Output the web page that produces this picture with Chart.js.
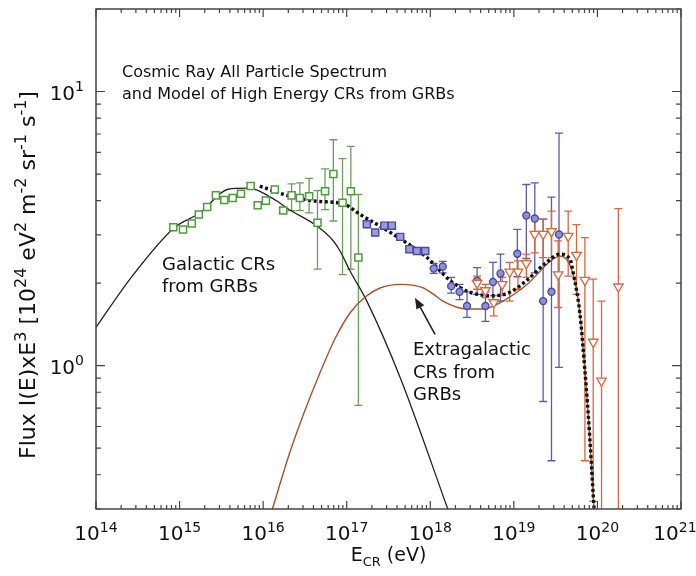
<!DOCTYPE html>
<html>
<head>
<meta charset="utf-8">
<script src="https://cdn.jsdelivr.net/npm/chart.js@4.4.0/dist/chart.umd.min.js"></script>
<style>
  body { margin: 0; background: #fff; }
</style>
</head>
<body>
<canvas id="myChart" width="696" height="576"></canvas>
<script>
// energy in eV, flux in 10^24 eV^2 m^-2 sr^-1 s^-1

// model curves
const galE = [1e14, 2.55e14, 8.58e14, 1.76e15, 3.80e15, 6.46e15, 1.48e16, 1.91e16, 4.42e16, 6.92e16, 8.32e16, 1.10e17, 1.74e17, 4.37e17, 1.62e18];
const galF = [1.38, 2.07, 3.18, 3.61, 4.40, 4.44, 3.98, 3.76, 3.23, 2.85, 2.62, 2.21, 1.72, 0.904, 0.30];

const extraE = [1.29e16, 2.09e16, 3.16e16, 4.79e16, 7.24e16, 1.10e17, 1.66e17, 2.51e17, 4.37e17, 7.94e17, 1.10e18, 1.41e18, 2.75e18, 4.27e18, 7.41e18, 1.45e19, 2.51e19, 3.55e19, 5.13e19, 6.17e19, 7.08e19, 7.76e19, 9.12e19];
const extraF = [0.30, 0.483, 0.686, 0.943, 1.254, 1.56, 1.78, 1.92, 1.98, 1.93, 1.82, 1.72, 1.61, 1.61, 1.72, 1.98, 2.35, 2.51, 2.15, 1.55, 0.96, 0.667, 0.30];

const totalE = [9.12e15, 2.09e16, 4.37e16, 9.12e16, 1.45e17, 3.63e17, 9.12e17, 1.74e18, 3.02e18, 5.62e18, 8.91e18, 1.41e19, 2.45e19, 3.55e19, 4.68e19, 5.13e19, 6.17e19, 7.08e19, 7.76e19, 9.12e19];
const totalF = [4.52, 4.15, 3.98, 3.89, 3.56, 3.01, 2.48, 2.04, 1.85, 1.80, 1.85, 2.04, 2.38, 2.55, 2.45, 2.18, 1.55, 0.96, 0.667, 0.30];

// green data (low energy)
const greenE = [8.41e14, 1.10e15, 1.40e15, 1.70e15, 2.14e15, 2.72e15, 3.43e15, 4.32e15, 5.43e15, 7.08e15, 8.61e15, 1.08e16, 1.38e16, 1.74e16, 2.19e16, 2.75e16, 3.55e16, 4.47e16, 5.50e16, 6.92e16, 8.91e16, 1.12e17, 1.38e17];
const greenF = [3.20, 3.14, 3.30, 3.56, 3.79, 4.18, 4.02, 4.09, 4.24, 4.52, 3.85, 4.00, 4.39, 3.68, 4.18, 4.09, 4.15, 3.32, 4.33, 5.00, 3.93, 4.33, 2.48];
const greenHi = [null, null, null, null, null, null, null, null, null, null, null, null, null, null, 4.60, 4.64, 4.82, 4.35, 5.22, 6.67, 5.69, 6.31, 4.21];
const greenLo = [null, null, null, null, null, null, null, null, null, null, null, null, null, null, 3.68, 3.68, 3.61, 2.25, 3.71, 3.37, 2.15, 2.25, 0.716];

// blue squares
const bsqE = [1.74e17, 2.19e17, 2.82e17, 3.47e17, 4.37e17, 5.62e17, 6.92e17, 8.71e17];
const bsqF = [3.28, 3.06, 3.24, 3.24, 2.95, 2.66, 2.62, 2.62];

// blue circles
const bciE = [1.10e18, 1.41e18, 1.78e18, 2.24e18, 2.75e18, 3.63e18, 4.57e18, 5.62e18, 6.92e18, 1.10e19, 1.41e19, 1.78e19, 2.24e19, 2.82e19, 3.47e19];
const bciF = [2.26, 2.30, 1.95, 1.86, 1.65, 2.04, 1.65, 2.02, 2.17, 2.56, 3.53, 3.44, 1.72, 1.86, 3.01];
const bciHi = [2.36, 2.40, 2.10, 1.98, 1.86, 2.28, 1.86, 2.38, 2.55, 3.14, 4.58, 4.64, 3.42, 4.12, 7.05];
const bciLo = [2.17, 2.18, 1.84, 1.74, 1.50, 1.82, 1.45, 1.72, 1.72, 2.11, 2.46, 2.18, 0.74, 0.45, 0.985];

// orange triangles
const triE = [3.63e18, 4.57e18, 5.75e18, 7.24e18, 8.91e18, 1.12e19, 1.41e19, 1.78e19, 2.24e19, 2.82e19, 3.39e19, 4.47e19, 5.62e19, 7.08e19, 8.91e19, 1.12e20, 1.78e20];
const triF = [2.00, 1.88, 1.70, 1.98, 2.20, 2.20, 2.36, 3.02, 3.02, 3.09, 2.15, 2.97, 2.53, 2.05, 1.22, 0.88, 1.94];
const triHi = [2.12, 1.98, 1.80, 2.10, 2.38, 2.41, 2.55, 3.46, 3.42, 3.66, 2.85, 3.66, 3.27, 2.93, 2.07, 1.72, 3.74];
const triLo = [1.90, 1.77, 1.52, 1.80, 1.72, 1.90, 2.10, 2.58, 2.48, 2.48, 1.63, 2.12, 1.82, 0.45, 0.32, 0.2, 0.2];

// axis ticks
const xDecades = [14, 15, 16, 17, 18, 19, 20, 21];
const yTicks = [0.3, 0.4, 0.5, 0.6, 0.7, 0.8, 0.9, 1, 2, 3, 4, 5, 6, 7, 8, 9, 10, 20];
const yLabels = [[1, "0"], [10, "1"]];

const FONT = "'DejaVu Sans', sans-serif";

function pts(xs, ys) {
  return xs.map((v, i) => ({ x: v, y: ys[i] }));
}

// draw text made of [text, shift] parts, shift 1 = superscript, -1 = subscript
function drawParts(ctx, parts, x, y, size, align, ratio) {
  const small = Math.round(size * (ratio || 0.68));
  let w = 0;
  parts.forEach(p => {
    ctx.font = (p[1] ? small : size) + "px " + FONT;
    w += ctx.measureText(p[0]).width;
  });
  let cx = x;
  if (align === "center") cx = x - w / 2;
  if (align === "right") cx = x - w;
  ctx.textAlign = "left";
  ctx.textBaseline = "alphabetic";
  parts.forEach(p => {
    ctx.font = (p[1] ? small : size) + "px " + FONT;
    let dy = 0;
    if (p[1] === 1) dy = -size * 0.42;
    if (p[1] === -1) dy = size * 0.28;
    ctx.fillText(p[0], cx, y + dy);
    cx += ctx.measureText(p[0]).width;
  });
  return w;
}

const errorBars = {
  id: "errorBars",
  beforeDatasetsDraw(chart) {
    const { ctx, chartArea: a, scales: { x, y } } = chart;
    ctx.save();
    ctx.beginPath();
    ctx.rect(a.left, a.top, a.right - a.left, a.bottom - a.top);
    ctx.clip();
    chart.data.datasets.forEach(ds => {
      if (!ds.hi) return;
      ctx.strokeStyle = ds.barColor;
      ctx.lineWidth = 1.3;
      ds.data.forEach((p, i) => {
        if (ds.hi[i] == null) return;
        const px = x.getPixelForValue(p.x);
        const top = y.getPixelForValue(ds.hi[i]);
        const bot = y.getPixelForValue(ds.lo[i]);
        ctx.beginPath();
        ctx.moveTo(px, top); ctx.lineTo(px, bot);
        ctx.moveTo(px - 4, top); ctx.lineTo(px + 4, top);
        ctx.moveTo(px - 4, bot); ctx.lineTo(px + 4, bot);
        ctx.stroke();
      });
    });
    ctx.restore();
  }
};

const frame = {
  id: "frame",
  afterDraw(chart) {
    const { ctx, chartArea: a, scales: { x, y } } = chart;
    ctx.save();
    ctx.strokeStyle = "#444";
    ctx.lineWidth = 1.5;
    ctx.strokeRect(a.left, a.top, a.right - a.left, a.bottom - a.top);

    ctx.lineWidth = 1.2;
    ctx.beginPath();
    xDecades.forEach((d, k) => {
      for (let m = 1; m <= 9; m++) {
        if (k === xDecades.length - 1 && m > 1) break;
        const px = x.getPixelForValue(m * Math.pow(10, d));
        const len = m === 1 ? 8 : 4;
        ctx.moveTo(px, a.bottom); ctx.lineTo(px, a.bottom - len);
        ctx.moveTo(px, a.top); ctx.lineTo(px, a.top + len);
      }
    });
    yTicks.forEach(v => {
      const py = y.getPixelForValue(v);
      const len = (v === 1 || v === 10) ? 9 : 5;
      ctx.moveTo(a.left, py); ctx.lineTo(a.left + len, py);
      ctx.moveTo(a.right, py); ctx.lineTo(a.right - len, py);
    });
    ctx.stroke();

    ctx.fillStyle = "#111";
    xDecades.forEach(d => {
      const px = Math.min(x.getPixelForValue(Math.pow(10, d)), 675);
      drawParts(ctx, [["10", 0], [String(d), 1]], px, a.bottom + 31, 20, "center");
    });
    yLabels.forEach(l => {
      const py = y.getPixelForValue(l[0]);
      drawParts(ctx, [["10", 0], [l[1], 1]], a.left - 12, py + 8, 20, "right");
    });

    // axis titles
    drawParts(ctx, [["E", 0], ["CR", -1], [" (eV)", 0]], (a.left + a.right) / 2, a.bottom + 52, 19, "center");
    ctx.save();
    ctx.translate(35, 275);
    ctx.rotate(-Math.PI / 2);
    drawParts(ctx, [["Flux I(E)xE", 0], ["3", 1], [" [10", 0], ["24", 1], [" eV", 0], ["2", 1], [" m", 0], ["-2", 1], [" sr", 0], ["-1", 1], [" s", 0], ["-1", 1], ["]", 0]], 0, 0, 22, "center", 0.72);
    ctx.restore();
    ctx.restore();
  }
};

const notes = {
  id: "notes",
  afterDatasetsDraw(chart) {
    const { ctx, scales: { x, y } } = chart;
    ctx.save();
    ctx.fillStyle = "#111";
    ctx.font = "16px " + FONT;
    ctx.textAlign = "left";
    ctx.textBaseline = "middle";
    ctx.fillText("Cosmic Ray All Particle Spectrum", 122, 73);
    ctx.fillText("and Model of High Energy CRs from GRBs", 122, 95);
    ctx.font = "18px " + FONT;
    ctx.fillText("Galactic CRs", 162, 265);
    ctx.fillText("from GRBs", 162, 287);
    ctx.fillText("Extragalactic", 413, 350);
    ctx.fillText("CRs from", 413, 373);
    ctx.fillText("GRBs", 413, 395);

    // arrow to the extragalactic curve
    const x1 = x.getPixelForValue(1.14e18), y1 = y.getPixelForValue(1.30);
    const x2 = x.getPixelForValue(6.56e17), y2 = y.getPixelForValue(1.77);
    const ang = Math.atan2(y2 - y1, x2 - x1);
    ctx.strokeStyle = "#222";
    ctx.lineWidth = 1.6;
    ctx.beginPath();
    ctx.moveTo(x1, y1);
    ctx.lineTo(x2 - 6 * Math.cos(ang), y2 - 6 * Math.sin(ang));
    ctx.stroke();
    ctx.fillStyle = "#222";
    ctx.beginPath();
    ctx.moveTo(x2, y2);
    ctx.lineTo(x2 - 12 * Math.cos(ang - 0.38), y2 - 12 * Math.sin(ang - 0.38));
    ctx.lineTo(x2 - 12 * Math.cos(ang + 0.38), y2 - 12 * Math.sin(ang + 0.38));
    ctx.closePath();
    ctx.fill();
    ctx.restore();
  }
};

new Chart(document.getElementById("myChart"), {
  type: "scatter",
  data: {
    datasets: [
      {
        label: "green",
        data: pts(greenE, greenF),
        hi: greenHi, lo: greenLo, barColor: "#6a9e5c",
        pointStyle: "rect", pointRadius: 5, borderWidth: 1.5,
        borderColor: "#4f9a3f", backgroundColor: "#ffffff",
        order: 1,
      },
      {
        label: "blue squares",
        data: pts(bsqE, bsqF),
        pointStyle: "rect", pointRadius: 5, borderWidth: 1.4,
        borderColor: "#4a4aa6", backgroundColor: "#9c9cdc",
        order: 1,
      },
      {
        label: "blue circles",
        data: pts(bciE, bciF),
        hi: bciHi, lo: bciLo, barColor: "#5a5ab0",
        pointStyle: "circle", pointRadius: 3.5, borderWidth: 1.4,
        borderColor: "#4a4aa6", backgroundColor: "#9090d4",
        order: 1,
      },
      {
        label: "triangles",
        data: pts(triE, triF),
        hi: triHi, lo: triLo, barColor: "#d9663f",
        pointStyle: "triangle", rotation: 180, pointRadius: 5.5, borderWidth: 1.3,
        borderColor: "#d9663f", backgroundColor: "#ffffff",
        order: 0,
      },
      {
        label: "total",
        data: pts(totalE, totalF),
        showLine: true, pointRadius: 0,
        borderColor: "#111", borderWidth: 3.4, borderDash: [3, 2.6],
        cubicInterpolationMode: "monotone",
        order: 2,
      },
      {
        label: "extragalactic",
        data: pts(extraE, extraF),
        showLine: true, pointRadius: 0,
        borderColor: "#a4522d", borderWidth: 1.4,
        cubicInterpolationMode: "monotone",
        order: 3,
      },
      {
        label: "galactic",
        data: pts(galE, galF),
        showLine: true, pointRadius: 0,
        borderColor: "#222", borderWidth: 1.3,
        cubicInterpolationMode: "monotone",
        order: 3,
      },
    ],
  },
  options: {
    responsive: false,
    animation: false,
    layout: { padding: { left: 96, right: 15, top: 9, bottom: 67 } },
    scales: {
      x: { type: "logarithmic", min: 1e14, max: 1e21, display: false },
      y: { type: "logarithmic", min: 0.3, max: 20, display: false },
    },
    plugins: {
      legend: { display: false },
      tooltip: { enabled: false },
    },
  },
  plugins: [errorBars, notes, frame],
});
</script>
</body>
</html>
